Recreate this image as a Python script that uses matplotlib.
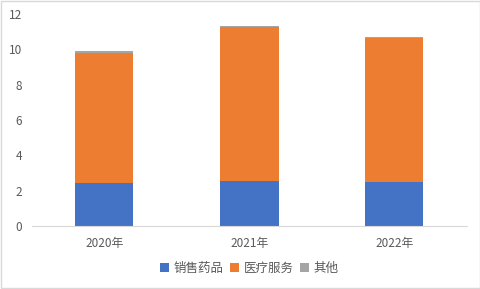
import matplotlib.pyplot as plt
import numpy as np

plt.rcParams['font.family'] = ['Noto Sans CJK SC', 'DejaVu Sans']

years = ['2020年', '2021年', '2022年']
drugs = [2.46, 2.56, 2.5]      # 销售药品
medical = [7.34, 8.69, 8.13]   # 医疗服务
other = [0.08, 0.05, 0.05]     # 其他

fig = plt.figure(figsize=(4.81, 2.89), dpi=100)
ax = fig.add_axes([32 / 481, 63 / 289, 435 / 481, 212 / 289])

x = np.arange(len(years))
w = 0.4
ax.bar(x, drugs, w, color='#4472C4', label='销售药品')
ax.bar(x, medical, w, bottom=drugs, color='#ED7D31', label='医疗服务')
ax.bar(x, other, w, bottom=np.add(drugs, medical), color='#A5A5A5', label='其他')

ax.set_xlim(-0.5, 2.5)
ax.set_ylim(0, 12)
ax.set_yticks(range(0, 13, 2))
ax.set_xticks(x)
ax.set_xticklabels(years)
ax.tick_params(length=0, labelsize=8.5, colors='#595959')
ax.tick_params(axis='y', pad=7)
ax.tick_params(axis='x', pad=8)
for s in ['top', 'right', 'left']:
    ax.spines[s].set_visible(False)
ax.spines['bottom'].set_color('#D9D9D9')

ax.legend(loc='center', bbox_to_anchor=(0.5, -0.2), ncol=3, frameon=False,
          fontsize=9, handlelength=0.7, handleheight=0.7, handletextpad=0.4,
          columnspacing=0.5, labelcolor='#595959')

fig.patches.append(plt.Rectangle((0.002, 0.003), 0.996, 0.994, transform=fig.transFigure,
                                 fill=False, edgecolor='#D9D9D9', lw=1))

fig.savefig('out.png', dpi=100)
